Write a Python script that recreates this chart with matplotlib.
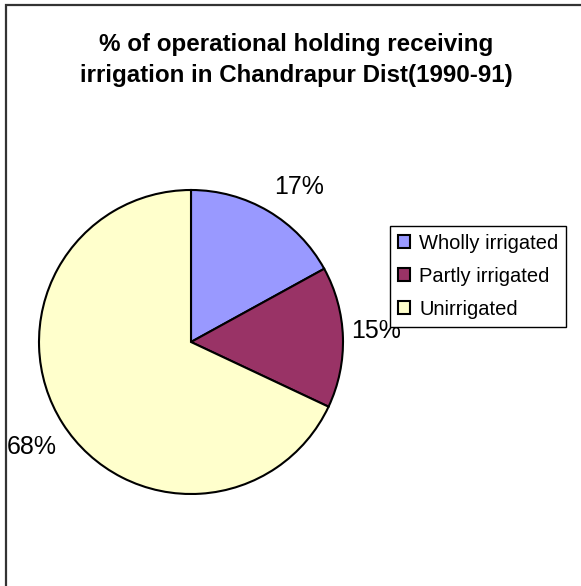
import matplotlib
matplotlib.use("Agg")
import matplotlib.pyplot as plt
from matplotlib.patches import Rectangle

categories = ["Wholly irrigated", "Partly irrigated", "Unirrigated"]
values = [17, 15, 68]
colors = ["#9999FF", "#993366", "#FFFFCC"]
title = "% of operational holding receiving\nirrigation in Chandrapur Dist(1990-91)"

plt.rcParams['font.family'] = ['Liberation Sans', 'DejaVu Sans']

W, H = 581, 586
fig = plt.figure(figsize=(W / 100, H / 100), dpi=100)
fig.patch.set_facecolor("white")

# outer frame (left/top visible, right/bottom cropped)
fig.patches.append(Rectangle((6 / W, -0.1), 1.2, (H - 5) / H + 0.1,
                             transform=fig.transFigure, fill=False,
                             edgecolor="#333333", linewidth=1.6))

ax = fig.add_axes([0, 0, 1, 1])
ax.axis("off")

wedges, texts, autotexts = ax.pie(
    values, colors=colors, startangle=90, counterclock=False,
    center=(191, H - 342), radius=152, autopct="%1.0f%%", pctdistance=1.245,
    wedgeprops=dict(edgecolor="black", linewidth=1.5),
    textprops=dict(fontsize=18, color="black"))
ax.set_xlim(0, W)
ax.set_ylim(0, H)
ax.set_aspect("equal")

# small label nudges to mimic the original label placement
label_offsets = [(12, -8), (-4, 5), (1, -4)]
for t, (dx, dy) in zip(autotexts, label_offsets):
    x, y = t.get_position()
    t.set_position((x + dx, y + dy))

fig.text(296 / W, 1 - 60 / H, title, ha="center", va="center",
         fontsize=17.4, fontweight="bold", linespacing=1.42)

leg = fig.legend(wedges, categories, loc="upper left",
                 bbox_to_anchor=(390 / W, 1 - 226 / H), borderaxespad=0,
                 fontsize=14.5, frameon=True, fancybox=False, framealpha=1,
                 handlelength=0.62, handleheight=0.62, handletextpad=0.45,
                 labelspacing=0.7, borderpad=0.38)
leg.get_frame().set_edgecolor("black")
leg.get_frame().set_linewidth(1.0)
for h in leg.legend_handles:
    h.set_edgecolor("black")
    h.set_linewidth(1.5)

fig.savefig("out.png", dpi=100, facecolor="white")
